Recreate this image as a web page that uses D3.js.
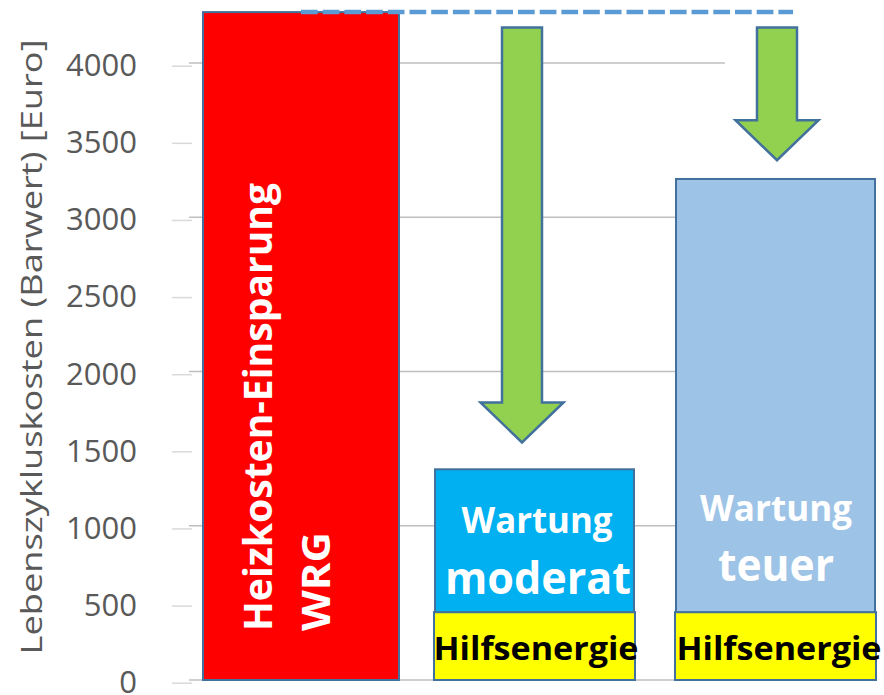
<!DOCTYPE html>
<html>
<head>
<meta charset="utf-8">
<script src="https://cdn.jsdelivr.net/npm/d3@7"></script>
<style>
  html, body { margin: 0; padding: 0; background: #fff; }
  svg { display: block; }
</style>
</head>
<body>
<svg id="chart" width="884" height="695"></svg>
<script>
// ---------- data ----------
const categories = ["Heizkosten-Einsparung WRG", "Wartung moderat", "Wartung teuer"];
const heizkosten = [4330, 0, 0];          // Heizkosten-Einsparung WRG
const hilfsenergie = [0, 440, 440];       // Hilfsenergie
const wartung = [0, 926, 2808];           // Wartung moderat / teuer
const arrowTop = [null, 4230, 4230];      // arrows start value
const arrowTip = [null, 1540, 3370];      // arrows tip value
const yTicks = [0, 500, 1000, 1500, 2000, 2500, 3000, 3500, 4000];
const gridValues = [0, 1000, 2000, 3000, 4000];
const yTitle = "Lebenszykluskosten (Barwert) [Euro]";
const heizLabel = ["Heizkosten-Einsparung", "WRG"];
const wartungLabels = [null, ["Wartung", "moderat"], ["Wartung", "teuer"]];
const hilfsLabel = "Hilfsenergie";

// ---------- scales ----------
const svg = d3.select("#chart");
const y = d3.scaleLinear().domain([0, 4000]).range([680, 63]);
const x = d3.scaleBand().domain(categories).range([202, 872]).paddingInner(0.161).paddingOuter(0);
const bw = x.bandwidth();
const FONT = "'Open Sans', 'Liberation Sans', sans-serif";
const BORDER = "#41719c";

// ---------- grid ----------
svg.append("g").selectAll("line").data(gridValues).join("line")
  .attr("x1", 189).attr("x2", 725)
  .attr("y1", d => y(d)).attr("y2", d => y(d))
  .attr("stroke", "#bfbfbf").attr("stroke-width", 1.5);

// ---------- axis ----------
const axis = svg.append("g").attr("transform", "translate(192,2.7)")
  .call(d3.axisLeft(y).tickValues(yTicks).tickSize(20).tickPadding(35).tickFormat(d3.format("d")));
axis.select(".domain").remove();
axis.selectAll(".tick line").attr("stroke", "#d9d9d9").attr("stroke-width", 1.5);
axis.selectAll(".tick text").attr("fill", "#595959").style("font-family", FONT).style("font-size", "31px");

svg.append("text")
  .attr("transform", "translate(42,347) rotate(-90)")
  .attr("text-anchor", "middle")
  .attr("fill", "#595959")
  .style("font-family", FONT).style("font-size", "30px")
  .attr("textLength", 615).attr("lengthAdjust", "spacingAndGlyphs")
  .text(yTitle);

// ---------- red bar ----------
svg.append("g").selectAll("rect").data(categories.filter((c, i) => heizkosten[i] > 0)).join("rect")
  .attr("x", d => x(d) + 1).attr("width", bw - 2)
  .attr("y", d => y(heizkosten[categories.indexOf(d)]))
  .attr("height", d => y(0) - y(heizkosten[categories.indexOf(d)]))
  .attr("fill", "#ff0000").attr("stroke", BORDER).attr("stroke-width", 2);

// ---------- Hilfsenergie (yellow) ----------
const idx = [1, 2];
const boxDx = [0, -3, 2];
svg.append("g").selectAll("rect").data(idx).join("rect")
  .attr("x", i => x(categories[i]) + boxDx[i] - 1).attr("width", bw + 3)
  .attr("y", i => y(hilfsenergie[i]))
  .attr("height", i => y(0) - y(hilfsenergie[i]))
  .attr("fill", "#ffff00").attr("stroke", BORDER).attr("stroke-width", 2);

// ---------- Wartung boxes ----------
const wartungFill = [null, "#00b0f0", "#9dc3e6"];
svg.append("g").selectAll("rect").data(idx).join("rect")
  .attr("x", i => x(categories[i]) + boxDx[i]).attr("width", bw + 1)
  .attr("y", i => y(hilfsenergie[i] + wartung[i]))
  .attr("height", i => y(hilfsenergie[i]) - y(hilfsenergie[i] + wartung[i]))
  .attr("fill", i => wartungFill[i]).attr("stroke", BORDER).attr("stroke-width", 2);

// ---------- dashed reference line ----------
const arrowOffset = [0, -15, 4];
const shaftW = 40, headW = 83, headLen = 40;
svg.append("line")
  .attr("x1", x(categories[0]) + bw / 2)
  .attr("x2", x(categories[2]) + bw / 2 + arrowOffset[2] + shaftW / 2 - 4)
  .attr("y1", y(heizkosten[0])).attr("y2", y(heizkosten[0]))
  .attr("stroke", "#5b9bd5").attr("stroke-width", 4.5)
  .attr("stroke-dasharray", "16.7,5");

// ---------- arrows ----------
svg.append("g").selectAll("path").data(idx).join("path")
  .attr("d", i => {
    const cx = x(categories[i]) + bw / 2 + arrowOffset[i];
    const yt = y(arrowTop[i]), yp = y(arrowTip[i]), yb = yp - headLen;
    return `M${cx - shaftW / 2},${yt} L${cx + shaftW / 2},${yt} L${cx + shaftW / 2},${yb} L${cx + headW / 2},${yb} L${cx},${yp} L${cx - headW / 2},${yb} L${cx - shaftW / 2},${yb} Z`;
  })
  .attr("fill", "#92d050").attr("stroke", BORDER).attr("stroke-width", 2.5)
  .attr("stroke-linejoin", "miter");

// ---------- labels ----------
// Heizkosten label (rotated)
const rc = x(categories[0]) + bw / 2;
const heizBase = [rc - 29, rc + 29];
const heizLen = [448, 99];
heizLabel.forEach((t, k) => {
  svg.append("text")
    .attr("transform", `translate(${heizBase[k]},${y(0) - 49}) rotate(-90)`)
    .attr("fill", "#fff").attr("font-weight", "bold")
    .style("font-family", FONT).style("font-size", "40px")
    .attr("textLength", heizLen[k]).attr("lengthAdjust", "spacingAndGlyphs")
    .text(t);
});

// Wartung labels
const wOff = [null, [-79, -18], [-91, -31]];
const wSize = [36, 44];
const wLen = [null, [151, 186], [152, 116]];
const wDx = [null, [0, 1], [3, 3]];
const hDx = [0, -1, 6];
idx.forEach(i => {
  const cx = x(categories[i]) + bw / 2;
  wartungLabels[i].forEach((t, k) => {
    svg.append("text")
      .attr("x", cx + wDx[i][k])
      .attr("y", y(hilfsenergie[i]) + wOff[i][k])
      .attr("text-anchor", "middle")
      .attr("fill", "#fff").attr("font-weight", "bold")
      .style("font-family", FONT).style("font-size", wSize[k] + "px")
      .attr("textLength", wLen[i][k]).attr("lengthAdjust", "spacingAndGlyphs")
      .text(t);
  });
  svg.append("text")
    .attr("x", cx + hDx[i])
    .attr("y", y(0) - 20)
    .attr("text-anchor", "middle")
    .attr("fill", "#000").attr("font-weight", "bold")
    .style("font-family", FONT).style("font-size", "32px")
    .attr("textLength", 205).attr("lengthAdjust", "spacingAndGlyphs")
    .text(hilfsLabel);
});
</script>
</body>
</html>
